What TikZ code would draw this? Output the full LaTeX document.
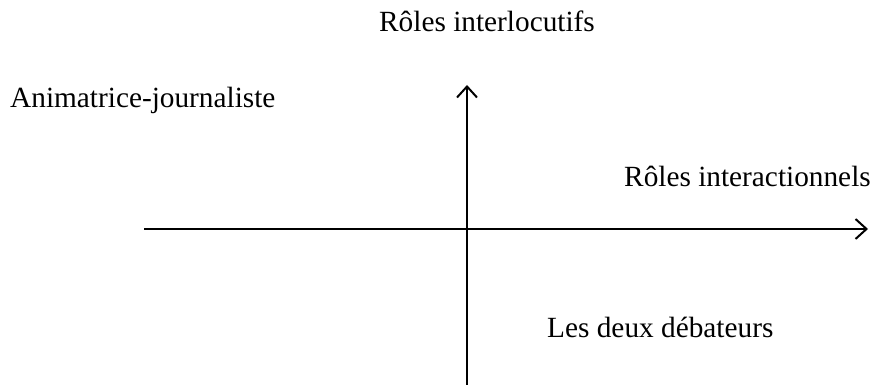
\documentclass[tikz,border=0pt]{standalone}
\usepackage{fontspec}
\setmainfont{Liberation Serif}
\usetikzlibrary{arrows.meta}
\begin{document}
\begin{tikzpicture}[x=1pt,y=-1pt,
  axis/.style={line width=2pt,-{Straight Barb[length=11pt,width=20pt,line width=2pt]}},
  lbl/.style={font=\fontsize{29.3}{34}\selectfont,inner sep=0pt,anchor=base west}]
\useasboundingbox (0,0) rectangle (872,385);
% axes
\coordinate (vbot) at (467,385);
\coordinate (vtop) at (467,85);
\coordinate (hl) at (144,229);
\coordinate (hr) at (868,229);
\draw[axis] (vbot) -- (vtop);
\draw[axis] (hl) -- (hr);
% labels
\node[lbl] (t1) at (379,32) {Rôles interlocutifs};
\node[lbl] (t2) at (10,108) {Animatrice-journaliste};
\node[lbl] (t3) at (624,186) {Rôles interactionnels};
\node[lbl] (t4) at (547,337) {Les deux débateurs};
\end{tikzpicture}
\end{document}
